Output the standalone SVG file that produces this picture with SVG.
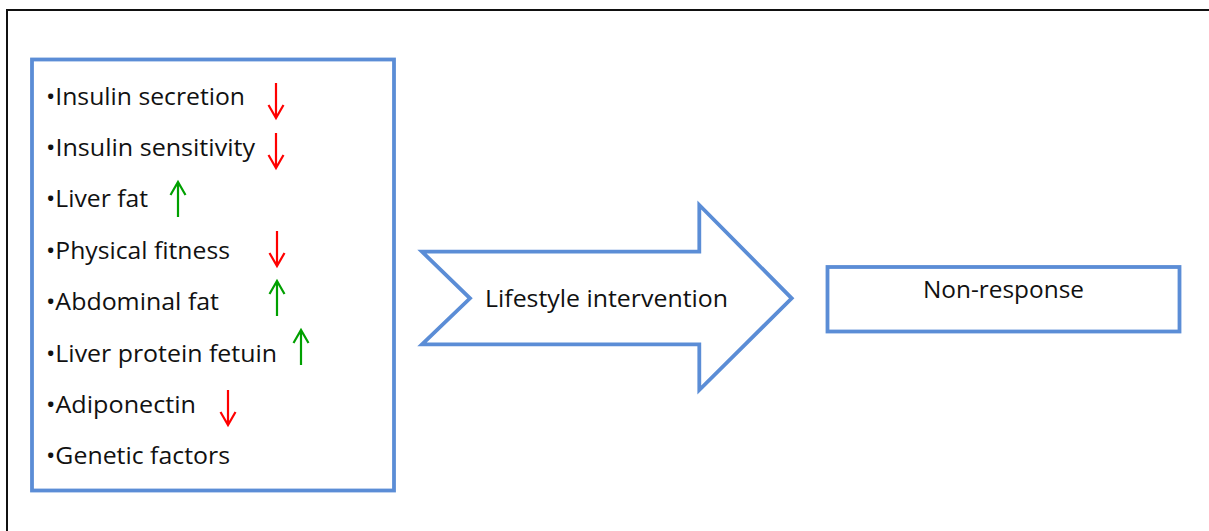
<svg xmlns="http://www.w3.org/2000/svg" width="1209" height="531" viewBox="0 0 1209 531">
<style>
.box{fill:#fff;stroke:#5B8DD6;stroke-width:3.8;stroke-linejoin:miter}
.t{font-family:"Open Sans","Noto Sans","Liberation Sans",sans-serif;font-size:23.5px;fill:#111}
.dn{fill:none;stroke:#FF0000;stroke-width:2.2}
.up{fill:none;stroke:#00A000;stroke-width:2.2}
</style>
<defs>
<path id="ad" d="M0,0V35M-7.5,22L0,35L7.5,22"/>
<path id="au" d="M0,35V0M-7.5,13L0,0L7.5,13"/>
</defs>
<rect width="1209" height="531" fill="#fff"/>
<path d="M7,531V10H1209" fill="none" stroke="#111" stroke-width="2"/>
<g id="factors">
<rect class="box" x="32" y="59.5" width="362" height="431"/>
<text class="t" x="46" y="105" textLength="199" lengthAdjust="spacingAndGlyphs">•Insulin secretion</text>
<text class="t" x="46" y="156" textLength="209" lengthAdjust="spacingAndGlyphs">•Insulin sensitivity</text>
<text class="t" x="46" y="207" textLength="102" lengthAdjust="spacingAndGlyphs">•Liver fat</text>
<text class="t" x="46" y="259" textLength="184" lengthAdjust="spacingAndGlyphs">•Physical fitness</text>
<text class="t" x="46" y="310" textLength="173" lengthAdjust="spacingAndGlyphs">•Abdominal fat</text>
<text class="t" x="46" y="362" textLength="231" lengthAdjust="spacingAndGlyphs">•Liver protein fetuin</text>
<text class="t" x="46" y="413" textLength="150" lengthAdjust="spacingAndGlyphs">•Adiponectin</text>
<text class="t" x="46" y="464" textLength="184" lengthAdjust="spacingAndGlyphs">•Genetic factors</text>
<use href="#ad" class="dn" x="276" y="83"/>
<use href="#ad" class="dn" x="276" y="133"/>
<use href="#au" class="up" x="178" y="182"/>
<use href="#ad" class="dn" x="277" y="231"/>
<use href="#au" class="up" x="277" y="281"/>
<use href="#au" class="up" x="301" y="330"/>
<use href="#ad" class="dn" x="228" y="390"/>
</g>
<g id="connectors">
<g id="lifestyle">
<path class="box" stroke-width="3.2" d="M422,251.7H699.3V205L791.7,298.3L699.3,390V344.3H422L470,298.3Z"/>
<text class="t" x="485" y="307" textLength="243" lengthAdjust="spacingAndGlyphs">Lifestyle intervention</text>
</g>
</g>
<g id="nonresponse">
<rect class="box" x="827.5" y="267" width="352" height="64.5"/>
<text class="t" x="923" y="298" textLength="161" lengthAdjust="spacingAndGlyphs">Non-response</text>
</g>
</svg>
